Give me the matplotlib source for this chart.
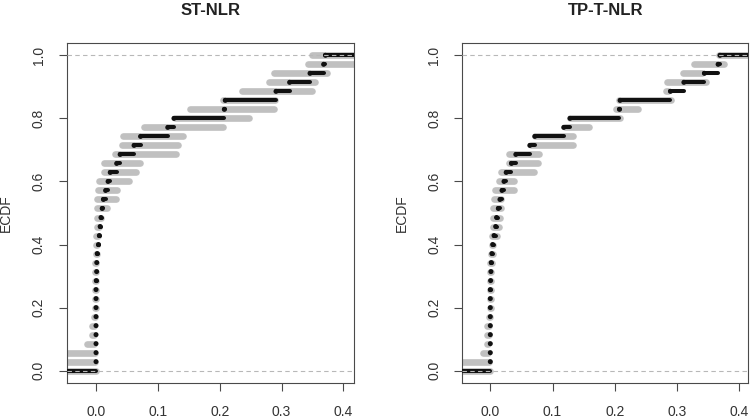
import numpy as np
import matplotlib
matplotlib.use("Agg")
import matplotlib.pyplot as plt

plt.rcParams['font.family'] = ['Liberation Sans', 'DejaVu Sans']

# ---------------- data ----------------
n_levels = 35
titles = ["ST-NLR", "TP-T-NLR"]
ylabel = "ECDF"
xticks = [0.0, 0.1, 0.2, 0.3, 0.4]
yticks = [0.0, 0.2, 0.4, 0.6, 0.8, 1.0]

# black ECDF knots (level k/35 starts at knot k), k = 1..35
st_black_knots = [0.0, 0.0, 0.0, 0.0, 0.0, 0.0, 0.0, 0.0, 0.0, 0.0005,
                  0.001, 0.0012, 0.002, 0.004, 0.0054, 0.0067, 0.008, 0.010, 0.012, 0.0155,
                  0.0195, 0.023, 0.0334, 0.039, 0.0615, 0.072, 0.116, 0.126, 0.2075, 0.209,
                  0.291, 0.313, 0.346, 0.368, 0.371]
tp_black_knots = [0.0, 0.0, 0.0, 0.0, 0.0, 0.0, 0.0, 0.0, 0.0, 0.0005,
                  0.001, 0.0015, 0.0025, 0.0038, 0.006, 0.0086, 0.010, 0.0129, 0.0155, 0.0188,
                  0.022, 0.0255, 0.034, 0.041, 0.0635, 0.0715, 0.118, 0.128, 0.2075, 0.2085,
                  0.2895, 0.311, 0.344, 0.366, 0.369]

# grey band per level k = 0..35 : start and end
st_grey_start = [-0.10, -0.10, -0.10, -0.014, -0.006, -0.006, -0.003, -0.0015, -0.0015, -0.0015,
                 -0.001, -0.001, -0.001, 0.0, 0.0, 0.0, 0.001, 0.001, 0.002, 0.002,
                 0.003, 0.0050, 0.0135, 0.0135, 0.0313, 0.0415, 0.043, 0.0776, 0.128, 0.152,
                 0.205, 0.236, 0.279, 0.287, 0.342, 0.350]
st_grey_end = [0.0, -0.002, -0.001, -0.003, -0.003, -0.003, -0.002, -0.0005, -0.0005, -0.0005,
               0.0, 0.0, 0.0, 0.001, 0.002, 0.004, 0.0054, 0.0075, 0.018, 0.033,
               0.034, 0.054, 0.0647, 0.0712, 0.129, 0.133, 0.141, 0.206, 0.248, 0.287,
               0.2895, 0.349, 0.354, 0.374, 0.50, 0.50]
tp_grey_start = [-0.10, -0.10, -0.011, -0.006, -0.006, -0.005, -0.002, -0.001, -0.001, -0.001,
                 0.0, 0.0, 0.0, 0.0015, 0.0027, 0.0027, 0.0038, 0.0038, 0.005, 0.006,
                 0.007, 0.0134, 0.0166, 0.0295, 0.0306, 0.0654, 0.0713, 0.120, 0.128, 0.202,
                 0.207, 0.2826, 0.284, 0.310, 0.3276, 0.367]
tp_grey_end = [0.0, -0.002, -0.003, -0.003, -0.002, -0.002, 0.0, 0.001, 0.001, 0.001,
               0.001, 0.001, 0.002, 0.004, 0.005, 0.0113, 0.0134, 0.0155, 0.0166, 0.0177,
               0.038, 0.038, 0.070, 0.0767, 0.079, 0.1324, 0.1335, 0.1587, 0.209, 0.2375,
               0.290, 0.286, 0.347, 0.340, 0.376, 0.50]

panels = [
    dict(title=titles[0], black=st_black_knots, gs=st_grey_start, ge=st_grey_end,
         xlim=(-0.0474, 0.4171)),
    dict(title=titles[1], black=tp_black_knots, gs=tp_grey_start, ge=tp_grey_end,
         xlim=(-0.045, 0.4145)),
]

# ---------------- layout ----------------
W, H = 750, 419
fig = plt.figure(figsize=(W / 100, H / 100), dpi=100)
ax_rects = [
    [66.7 / W, 1 - 383.3 / H, 287.3 / W, 340.6 / H],
    [462.3 / W, 1 - 383.3 / H, 286.0 / W, 340.6 / H],
]

text_col = '#333333'
box_col = '#4a4a4a'
grey_col = '#c0c0c0'
black_col = '#111111'

for rect, p in zip(ax_rects, panels):
    ax = fig.add_axes(rect)
    ax.set_xlim(*p['xlim'])
    ax.set_ylim(-0.04, 1.04)
    levels = np.arange(n_levels + 1) / n_levels

    # grey segments
    gs = np.array(p['gs'], dtype=float)
    ge = np.array(p['ge'], dtype=float)
    ge = np.maximum(ge, gs + 1e-4)
    ax.hlines(levels, gs, ge, colors=grey_col, linewidth=4.8, capstyle='round', zorder=2)

    # black ECDF segments
    knots = np.array(p['black'], dtype=float)
    starts = np.concatenate([[p['xlim'][0] - 0.1], knots])
    ends = np.concatenate([knots, [p['xlim'][1] + 0.1]])
    ends = np.maximum(ends, starts + 1e-5)
    ax.hlines(levels, starts, ends, colors=black_col, linewidth=2.9, capstyle='round', zorder=3)
    ax.scatter(knots, levels[1:], s=13, color=black_col, edgecolors='none', zorder=4)

    # dashed reference lines at 0 and 1
    for yy in (0.0, 1.0):
        ax.axhline(yy, color='#b8b8b8', linewidth=0.8, dashes=(4, 3), zorder=5)

    ax.set_xticks(xticks)
    ax.set_xticklabels([f"{v:.1f}" for v in xticks])
    ax.set_yticks(yticks)
    ax.set_yticklabels([f"{v:.1f}" for v in yticks])
    ax.tick_params(axis='both', direction='out', length=6, width=0.8, color=box_col,
                   labelsize=10, labelcolor=text_col)
    ax.tick_params(axis='x', pad=9.5)
    ax.tick_params(axis='y', pad=9, labelrotation=90)
    for lab in ax.get_yticklabels():
        lab.set_va('center')
        lab.set_ha('right')
    for s in ax.spines.values():
        s.set_color(box_col)
        s.set_linewidth(0.8)

    ax.set_title(p['title'], fontsize=12, fontweight='bold', color='#222222', pad=20)
    ax.set_ylabel(ylabel, fontsize=10, color=text_col)
    ax.yaxis.set_label_coords(-0.188, 0.5)

fig.savefig("out.png", dpi=100)
